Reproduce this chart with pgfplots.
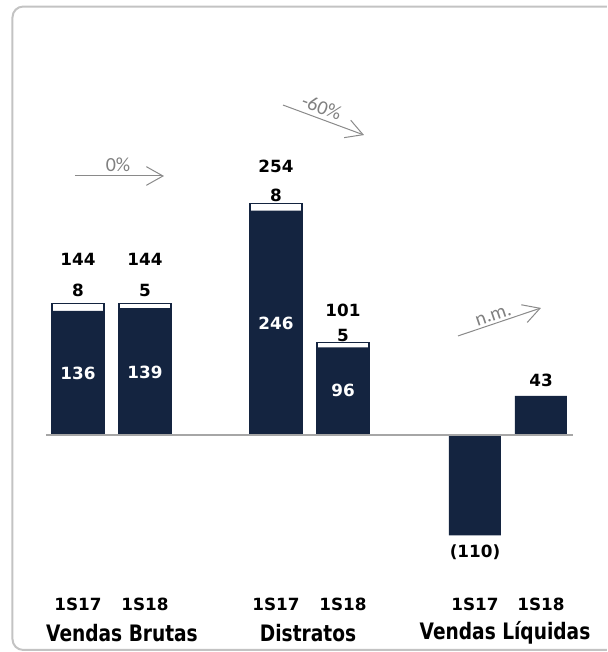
\documentclass[border=0pt]{standalone}
\usepackage{fontspec}
\setmainfont{DejaVu Sans}
\newfontfamily\lightfont{Carlito}
\usepackage{graphicx}
\usepackage{pgfplots}
\pgfplotsset{compat=1.18}
\usetikzlibrary{arrows.meta}
\definecolor{navy}{HTML}{142440}
\definecolor{boxgray}{HTML}{C3C3C3}
\definecolor{basegray}{HTML}{A6A6A6}
\definecolor{arrgray}{HTML}{8A8A8A}
\definecolor{txtgray}{HTML}{808080}
\newcommand{\numfont}{\fontsize{12.6}{14}\selectfont\bfseries}
\newcommand{\catfont}{\fontsize{17}{20}\selectfont\bfseries}
\newcommand{\pctfont}{\fontsize{15}{17}\selectfont\lightfont}
\newcommand{\cat}[1]{\scalebox{0.82}[1]{\catfont #1}}
\pgfplotstableread{
x total
78 144
145 144
276 254
343 101
}\totals
\pgfplotstableread{
x val
78 136
145 139
276 246
343 96
475 -110
541 43
}\mains
\begin{document}
\begin{tikzpicture}
\begin{axis}[
  scale only axis, width=455.25pt, height=489pt,
  xmin=0, xmax=607, ymin=-237.94, ymax=476.97,
  axis line style={draw=none},
  tick style={draw=none}, major tick length=0pt,
  ytick=\empty,
  xtick={78,145,276,343,475,541},
  xticklabels={1S17,1S18,1S17,1S18,1S17,1S18},
  xticklabel style={anchor=center, yshift=36pt, font=\numfont},
  clip=false,
]
% page frame (invisible)
\path (axis cs:0,-237.94) rectangle (axis cs:607,476.97);
% border (open at the right, as cut by the page)
\draw[boxgray, line width=1.5pt, rounded corners=8pt]
  (axis cs:607,469.8) -- (axis cs:12.5,469.8) -- (axis cs:12.5,-235.7) -- (axis cs:607,-235.7);
% bars
\addplot[ybar, bar width=52, bar shift=0pt, fill=white, draw=navy, line width=0.8pt]
  table[x=x, y=total] {\totals};
\addplot[ybar, bar width=52, bar shift=0pt, fill=navy, draw=none]
  table[x=x, y=val] {\mains};
% baseline
\draw[basegray, line width=1.1pt] (axis cs:46,0) -- (axis cs:573,0);
% value labels
\node[font=\numfont] at (axis cs:78,193.0) {144};
\node[font=\numfont] at (axis cs:78,159.0) {8};
\node[font=\numfont, text=white] at (axis cs:78,68.0) {136};
\node[font=\numfont] at (axis cs:145,193.0) {144};
\node[font=\numfont] at (axis cs:145,157.9) {5};
\node[font=\numfont, text=white] at (axis cs:145,69.1) {139};
\node[font=\numfont] at (axis cs:276,295.0) {254};
\node[font=\numfont] at (axis cs:276,263.2) {8};
\node[font=\numfont, text=white] at (axis cs:276,122.8) {246};
\node[font=\numfont] at (axis cs:343,137.1) {101};
\node[font=\numfont] at (axis cs:343,109.6) {5};
\node[font=\numfont, text=white] at (axis cs:343,49.3) {96};
\node[font=\numfont] at (axis cs:475,-128.3) {(110)};
\node[font=\numfont] at (axis cs:541,60.3) {43};
% category labels
\node at (axis cs:122,-217.1) {\cat{Vendas Brutas}};
\node at (axis cs:308,-217.1) {\cat{Distratos}};
\node at (axis cs:505,-217.1) {\cat{Vendas Líquidas}};
% growth arrows
\draw[arrgray, line width=0.75pt, -{Straight Barb[length=12.5pt, width=14pt]}]
  (axis cs:75,284.0) -- (axis cs:164,284.0);
\node[font=\pctfont, text=txtgray, anchor=south, inner sep=3pt] at (axis cs:118,284.0) {0\%};
\draw[arrgray, line width=0.75pt, -{Straight Barb[length=12.5pt, width=14pt]}]
  (axis cs:283,361.8) -- (axis cs:364,328.9);
\node[font=\pctfont, text=txtgray, rotate=-20.3, anchor=south, inner sep=3pt] at (axis cs:318,348.0) {-60\%};
\draw[arrgray, line width=0.75pt, -{Straight Barb[length=12.5pt, width=14pt]}]
  (axis cs:458,108.6) -- (axis cs:541,139.3);
\node[font=\pctfont, text=txtgray, rotate=18.6, anchor=south, inner sep=2pt] at (axis cs:496,122.6) {n.m.};
\end{axis}
\end{tikzpicture}
\end{document}
